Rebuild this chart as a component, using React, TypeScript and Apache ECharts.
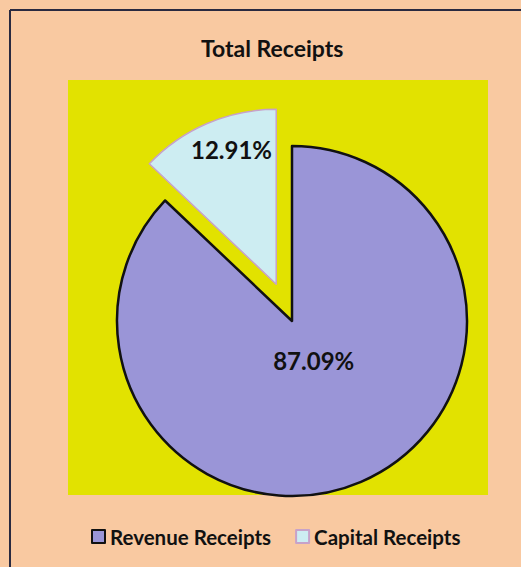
import React, { useEffect, useRef } from "react";
import * as echarts from "echarts";

const titleText = "Total Receipts";
const categories = ["Revenue Receipts", "Capital Receipts"];
const values = [87.09, 12.91];
const sliceColors = ["#9A95D7", "#CDEDF2"];
const sliceBorders = ["#111111", "#C7A2C9"];

export default function App() {
  const ref = useRef<HTMLDivElement>(null);
  useEffect(() => {
    document.body.style.margin = "0";
    const chart = echarts.init(ref.current!, null, { renderer: "svg" });
    const font = "Lato, 'Open Sans', sans-serif";
    chart.setOption({
      animation: false,
      backgroundColor: "#F9C9A1",
      title: {
        text: titleText,
        left: 196,
        top: 31,
        textStyle: { fontFamily: font, fontWeight: "bold", fontSize: 23, color: "#111" },
      },
      graphic: {
        elements: [
          { type: "rect", shape: { x: 68, y: 80, width: 420, height: 415 }, style: { fill: "#E2E200" }, z: 0 },
          { type: "line", shape: { x1: 10, y1: 10, x2: 521, y2: 10 }, style: { stroke: "#2a2a40", lineWidth: 2 }, z: 1 },
          { type: "line", shape: { x1: 10, y1: 10, x2: 10, y2: 567 }, style: { stroke: "#2a2a40", lineWidth: 2 }, z: 1 },
        ],
      },
      legend: {
        data: categories,
        left: 86,
        top: 521,
        icon: "rect",
        itemWidth: 13,
        itemHeight: 13,
        itemGap: 24,
        selectedMode: false,
        textStyle: { fontFamily: font, fontWeight: "bold", fontSize: 20.5, color: "#111" },
      },
      series: [
        {
          type: "pie",
          center: [292, 321],
          radius: 175,
          startAngle: 90,
          clockwise: true,
          selectedMode: "single",
          selectedOffset: 40,
          avoidLabelOverlap: false,
          label: {
            show: true,
            position: "inside",
            formatter: (p: any) => p.value.toFixed(2) + "%",
            fontFamily: font,
            fontWeight: "bold",
            fontSize: 24,
            color: "#111",
          },
          labelLine: { show: false },
          emphasis: { disabled: true },
          labelLayout: (p: any) =>
            p.dataIndex === 0 ? { dx: -14, dy: -44 } : { dx: -9, dy: -52 },
          data: categories.map((name, i) => ({
            name,
            value: values[i],
            selected: i === 1,
            itemStyle: {
              color: sliceColors[i],
              borderColor: sliceBorders[i],
              borderWidth: i === 0 ? 2.5 : 1.5,
            },
          })),
        },
      ],
    });
    return () => chart.dispose();
  }, []);
  return <div ref={ref} style={{ position: "absolute", left: 0, top: 0, width: 521, height: 567 }} />;
}
